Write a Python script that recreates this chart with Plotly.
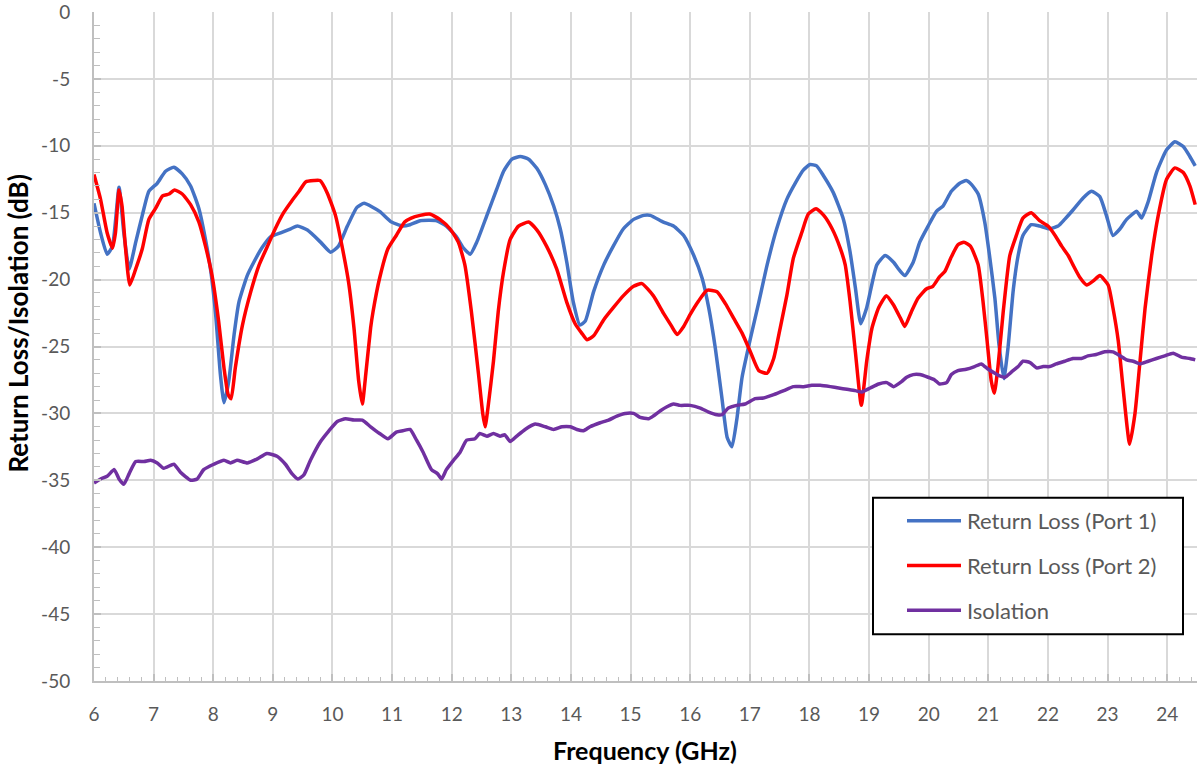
import plotly.graph_objects as go

# ---------------- data ----------------
freq_p1 = [6.0, 6.11, 6.22, 6.31, 6.42, 6.5, 6.59, 6.70, 6.81, 6.92, 7.06, 7.2, 7.34, 7.48, 7.62,
           7.76, 7.87, 7.96, 8.04, 8.12, 8.18, 8.26, 8.35, 8.43, 8.57, 8.68, 8.82, 8.96, 9.13, 9.30,
           9.41, 9.58, 9.80, 9.97, 10.1, 10.25, 10.41, 10.53, 10.79, 10.99, 11.18, 11.30, 11.47,
           11.75, 11.91, 12.08, 12.19, 12.31, 12.42, 12.59, 12.75, 12.87, 13.01, 13.15, 13.29,
           13.43, 13.57, 13.71, 13.82, 13.93, 14.04, 14.15, 14.24, 14.38, 14.55, 14.71, 14.88,
           15.05, 15.22, 15.33, 15.55, 15.72, 15.89, 16.06, 16.2, 16.31, 16.42, 16.53, 16.62, 16.7,
           16.78, 16.87, 17.01, 17.15, 17.29, 17.45, 17.62, 17.76, 17.9, 18.01, 18.12, 18.23, 18.4,
           18.57, 18.68, 18.77, 18.86, 18.96, 19.13, 19.27, 19.41, 19.51, 19.6, 19.74, 19.85, 19.99,
           20.13, 20.24, 20.38, 20.52, 20.63, 20.72, 20.83, 20.94, 21.02, 21.11, 21.18, 21.26,
           21.33, 21.42, 21.5, 21.58, 21.72, 21.86, 22.03, 22.17, 22.28, 22.42, 22.59, 22.73,
           22.87, 22.98, 23.09, 23.21, 23.32, 23.49, 23.57, 23.68, 23.82, 23.99, 24.13, 24.27,
           24.38, 24.47]
rl_port1 = [-14.3, -16.5, -18.1, -17.5, -13.1, -16.5, -19.2, -17.2, -15.2, -13.4, -12.8, -11.9,
            -11.6, -12.1, -13.0, -14.7, -17.0, -19.4, -22.6, -27.1, -29.2, -27.6, -24.1, -21.7,
            -19.7, -18.7, -17.6, -16.8, -16.5, -16.2, -16.0, -16.3, -17.2, -17.95, -17.5, -16.0,
            -14.6, -14.3, -14.9, -15.7, -16.0, -15.9, -15.6, -15.6, -16.0, -16.8, -17.6, -18.1,
            -17.2, -15.2, -13.3, -11.9, -11.0, -10.8, -11.0, -11.7, -12.9, -14.5, -16.2, -18.7,
            -21.7, -23.4, -23.1, -20.9, -18.9, -17.5, -16.2, -15.5, -15.2, -15.2, -15.7, -16.0,
            -16.7, -18.2, -19.9, -22.1, -25.1, -28.8, -31.8, -32.5, -30.5, -27.3, -24.4, -21.7,
            -18.9, -16.2, -14.0, -12.8, -11.8, -11.4, -11.5, -12.2, -13.5, -15.5, -17.9, -20.6,
            -23.3, -22.1, -18.9, -18.2, -18.7, -19.3, -19.7, -18.7, -17.2, -16.0, -14.9, -14.5,
            -13.4, -12.8, -12.6, -12.9, -13.6, -15.7, -18.2, -21.4, -24.9, -27.4, -25.1, -20.7,
            -18.2, -16.7, -15.9, -16.0, -16.2, -16.0, -15.5, -14.8, -13.9, -13.4, -13.8, -15.2,
            -16.7, -16.2, -15.5, -14.9, -15.4, -14.2, -12.0, -10.3, -9.7, -10.05, -10.8, -11.5]

freq_p2 = [6.0, 6.11, 6.22, 6.31, 6.36, 6.42, 6.47, 6.53, 6.6, 6.7, 6.81, 6.92, 7.03, 7.15, 7.26,
           7.35, 7.48, 7.62, 7.76, 7.87, 7.98, 8.09, 8.18, 8.25, 8.3, 8.37, 8.49, 8.63, 8.77, 8.9,
           9.04, 9.18, 9.32, 9.44, 9.55, 9.69, 9.79, 9.91, 10.05, 10.16, 10.27, 10.36, 10.44, 10.5,
           10.56, 10.64, 10.68, 10.79, 10.93, 11.07, 11.21, 11.32, 11.47, 11.63, 11.8, 11.97,
           12.11, 12.22, 12.33, 12.45, 12.52, 12.56, 12.61, 12.7, 12.78, 12.87, 12.98, 13.12,
           13.29, 13.43, 13.59, 13.76, 13.93, 14.07, 14.18, 14.27, 14.38, 14.55, 14.71, 14.88,
           15.05, 15.19, 15.38, 15.55, 15.69, 15.78, 15.89, 16.0, 16.14, 16.28, 16.45, 16.59,
           16.73, 16.87, 17.01, 17.15, 17.29, 17.4, 17.51, 17.62, 17.73, 17.87, 17.98, 18.11,
           18.24, 18.38, 18.52, 18.6, 18.68, 18.77, 18.87, 18.96, 19.05, 19.16, 19.29, 19.41,
           19.55, 19.6, 19.71, 19.82, 19.96, 20.07, 20.18, 20.27, 20.38, 20.49, 20.59, 20.7,
           20.83, 20.91, 20.98, 21.05, 21.1, 21.16, 21.25, 21.36, 21.47, 21.58, 21.72, 21.86,
           22.0, 22.12, 22.23, 22.34, 22.42, 22.53, 22.65, 22.76, 22.87, 23.01, 23.09, 23.18,
           23.26, 23.37, 23.46, 23.54, 23.63, 23.74, 23.85, 23.99, 24.13, 24.27, 24.38, 24.47]
rl_port2 = [-12.15, -14.0, -16.5, -17.65, -16.5, -13.3, -14.5, -17.7, -20.4, -19.2, -17.7, -15.5,
            -14.7, -13.75, -13.6, -13.3, -13.6, -14.4, -15.7, -17.5, -19.7, -23.1, -26.6, -28.6,
            -28.9, -26.6, -23.4, -20.9, -18.9, -17.6, -16.2, -15.0, -14.1, -13.4, -12.7, -12.6,
            -12.6, -13.5, -15.2, -17.5, -20.2, -23.6, -27.6, -29.3, -27.0, -23.6, -22.4, -19.9,
            -17.7, -16.7, -15.7, -15.4, -15.2, -15.1, -15.5, -16.2, -17.2, -18.9, -22.4, -27.1,
            -30.0, -31.0, -29.5, -26.1, -22.4, -19.4, -17.0, -16.0, -15.7, -16.3, -17.5, -19.2,
            -21.7, -23.3, -24.0, -24.5, -24.2, -23.0, -22.1, -21.2, -20.5, -20.3, -21.2, -22.5,
            -23.5, -24.1, -23.5, -22.6, -21.6, -20.8, -20.9, -21.8, -22.9, -24.0, -25.4, -26.8,
            -27.0, -25.9, -23.6, -21.2, -18.4, -16.5, -15.1, -14.7, -15.2, -16.2, -17.7, -18.9,
            -21.6, -25.4, -29.4, -26.1, -23.6, -22.1, -21.2, -21.9, -23.1, -23.5, -22.4, -21.4,
            -20.7, -20.5, -19.8, -19.4, -18.3, -17.4, -17.2, -17.5, -18.9, -21.6, -24.6, -27.6,
            -28.5, -26.6, -22.4, -18.2, -16.7, -15.4, -15.0, -15.6, -16.0, -16.7, -17.5, -18.2,
            -18.9, -19.8, -20.4, -20.1, -19.7, -20.4, -22.1, -24.6, -28.1, -32.3, -30.0, -26.3,
            -22.1, -18.2, -15.2, -12.5, -11.65, -12.0, -13.0, -14.4]

freq_iso = [6.0, 6.11, 6.22, 6.34, 6.42, 6.5, 6.59, 6.7, 6.84, 6.95, 7.06, 7.17, 7.34, 7.45, 7.62,
            7.73, 7.84, 8.01, 8.18, 8.29, 8.4, 8.57, 8.74, 8.9, 9.07, 9.21, 9.32, 9.42, 9.52, 9.63,
            9.8, 9.94, 10.08, 10.22, 10.36, 10.5, 10.64, 10.79, 10.93, 11.07, 11.18, 11.3, 11.41,
            11.52, 11.66, 11.76, 11.83, 11.91, 12.03, 12.14, 12.25, 12.39, 12.47, 12.59, 12.7,
            12.81, 12.89, 12.98, 13.09, 13.23, 13.4, 13.57, 13.71, 13.85, 13.99, 14.1, 14.21,
            14.32, 14.49, 14.63, 14.77, 14.91, 15.05, 15.16, 15.3, 15.38, 15.5, 15.61, 15.72,
            15.83, 16.0, 16.17, 16.31, 16.45, 16.53, 16.64, 16.78, 16.92, 17.09, 17.23, 17.4,
            17.57, 17.73, 17.9, 18.04, 18.18, 18.35, 18.49, 18.63, 18.77, 18.88, 19.02, 19.16,
            19.3, 19.41, 19.55, 19.63, 19.74, 19.85, 19.99, 20.1, 20.18, 20.3, 20.38, 20.49, 20.63,
            20.77, 20.88, 21.0, 21.11, 21.19, 21.28, 21.39, 21.5, 21.58, 21.7, 21.81, 21.92, 22.03,
            22.14, 22.28, 22.42, 22.56, 22.67, 22.81, 22.95, 23.09, 23.21, 23.32, 23.43, 23.54,
            23.68, 23.82, 23.96, 24.1, 24.24, 24.38, 24.47]
isolation = [-35.2, -34.9, -34.7, -34.2, -34.9, -35.3, -34.5, -33.6, -33.6, -33.5, -33.7, -34.1,
             -33.8, -34.4, -35.0, -34.9, -34.2, -33.8, -33.5, -33.7, -33.5, -33.7, -33.4, -33.0,
             -33.2, -33.8, -34.5, -34.9, -34.6, -33.5, -32.1, -31.3, -30.6, -30.4, -30.5, -30.5,
             -31.0, -31.5, -31.9, -31.4, -31.3, -31.2, -32.0, -32.9, -34.2, -34.5, -34.9, -34.2,
             -33.5, -32.9, -32.0, -31.9, -31.5, -31.7, -31.5, -31.7, -31.6, -32.1, -31.7, -31.2,
             -30.8, -31.0, -31.2, -31.0, -31.0, -31.2, -31.3, -31.0, -30.7, -30.5, -30.2, -30.0,
             -30.0, -30.3, -30.4, -30.2, -29.8, -29.5, -29.3, -29.4, -29.4, -29.6, -29.9, -30.1,
             -30.1, -29.6, -29.4, -29.3, -28.9, -28.85, -28.6, -28.3, -28.0, -28.0, -27.9, -27.9,
             -28.0, -28.1, -28.2, -28.3, -28.4, -28.1, -27.8, -27.7, -28.0, -27.6, -27.3, -27.1,
             -27.1, -27.3, -27.5, -27.8, -27.7, -27.1, -26.8, -26.7, -26.5, -26.3, -26.7, -27.0,
             -27.2, -27.3, -26.9, -26.5, -26.1, -26.2, -26.6, -26.5, -26.5, -26.3, -26.1, -25.9,
             -25.9, -25.7, -25.6, -25.4, -25.4, -25.7, -26.0, -26.1, -26.3, -26.1, -25.9, -25.7,
             -25.5, -25.8, -25.9, -26.0]

series_names = ["Return Loss (Port 1)", "Return Loss (Port 2)", "Isolation"]
series_colors = ["#4472C4", "#FF0000", "#7030A0"]
x_ticks = list(range(6, 25))
y_ticks = list(range(-50, 1, 5))
x_title = "Frequency (GHz)"
y_title = "Return Loss/Isolation (dB)"

# ---------------- figure ----------------
W, H = 1197, 767
ML, MR, MT, MB = 94, 0, 9, 86
PW, PH = W - ML - MR, H - MT - MB

def px2paper(px, py):
    return (px - ML) / PW, (H - MB - py) / PH

fig = go.Figure()
for fx, fy, name, col in zip([freq_p1, freq_p2, freq_iso], [rl_port1, rl_port2, isolation],
                             series_names, series_colors):
    fig.add_trace(go.Scatter(x=fx, y=fy, mode="lines", name=name,
                             line=dict(color=col, width=3.5, shape="spline", smoothing=0.5),
                             showlegend=False))

tick_font = dict(family="Lato, 'Open Sans', sans-serif", size=19, color="#595959")

fig.update_xaxes(range=[6, 24.5], tickvals=x_ticks, ticktext=[str(v) for v in x_ticks],
                 showgrid=True, gridcolor="#d9d9d9", gridwidth=1.5,
                 showline=True, linecolor="#bfbfbf", linewidth=2,
                 ticks="inside", ticklen=7, tickcolor="#bfbfbf", tickwidth=1.5,
                 minor=dict(dtick=0.2, ticks="inside", ticklen=4, tickcolor="#bfbfbf",
                            tickwidth=1.2, showgrid=False),
                 ticklabelstandoff=15, tickfont=tick_font, zeroline=False,
                 ticklabeloverflow="allow")
fig.update_yaxes(range=[-50, 0], tickvals=y_ticks, ticktext=[str(v) for v in y_ticks],
                 showgrid=True, gridcolor="#d9d9d9", gridwidth=1.5,
                 showline=True, linecolor="#bfbfbf", linewidth=2,
                 ticks="inside", ticklen=7, tickcolor="#bfbfbf", tickwidth=1.5,
                 minor=dict(dtick=1, ticks="inside", ticklen=6, tickcolor="#bfbfbf",
                            tickwidth=1.2, showgrid=False),
                 ticklabelstandoff=18, tickfont=tick_font, zeroline=False,
                 ticklabeloverflow="allow")

annotations = []
shapes = []

# axis titles
ax, ay = px2paper(645, 750)
annotations.append(dict(x=ax, y=ay, xref="paper", yref="paper", text="<b>%s</b>" % x_title,
                        showarrow=False, xanchor="center", yanchor="middle",
                        font=dict(family="Lato, 'Open Sans', sans-serif", size=25,
                                  color="#000000", weight="bold")))
ax, ay = px2paper(18, 322)
annotations.append(dict(x=ax, y=ay, xref="paper", yref="paper",
                        text="<b>%s</b>" % y_title, textangle=-90,
                        showarrow=False, xanchor="center", yanchor="middle",
                        font=dict(family="Lato, 'Open Sans', sans-serif", size=26,
                                  color="#000000", weight="bold")))

# legend box
x0, y0 = px2paper(873, 634)
x1, y1 = px2paper(1183, 497)
shapes.append(dict(type="rect", xref="paper", yref="paper", x0=x0, y0=y0, x1=x1, y1=y1,
                   line=dict(color="#000000", width=2), fillcolor="#ffffff", layer="above"))
legend_font = dict(family="Lato, 'Open Sans', sans-serif", size=22, color="#595959")
for i, (name, col) in enumerate(zip(series_names, series_colors)):
    py = 520 + 45 * i
    lx0, ly = px2paper(907, py)
    lx1, _ = px2paper(961, py)
    shapes.append(dict(type="line", xref="paper", yref="paper", x0=lx0, y0=ly, x1=lx1, y1=ly,
                       line=dict(color=col, width=3.5), layer="above"))
    tx, _ = px2paper(965, py)
    annotations.append(dict(x=tx, y=ly, xref="paper", yref="paper", text=name, showarrow=False,
                            xanchor="left", yanchor="middle", font=legend_font))

fig.update_layout(width=W, height=H, margin=dict(l=ML, r=MR, t=MT, b=MB, pad=0),
                  paper_bgcolor="#ffffff", plot_bgcolor="#ffffff",
                  annotations=annotations, shapes=shapes, showlegend=False)

fig.write_html("out.html")
